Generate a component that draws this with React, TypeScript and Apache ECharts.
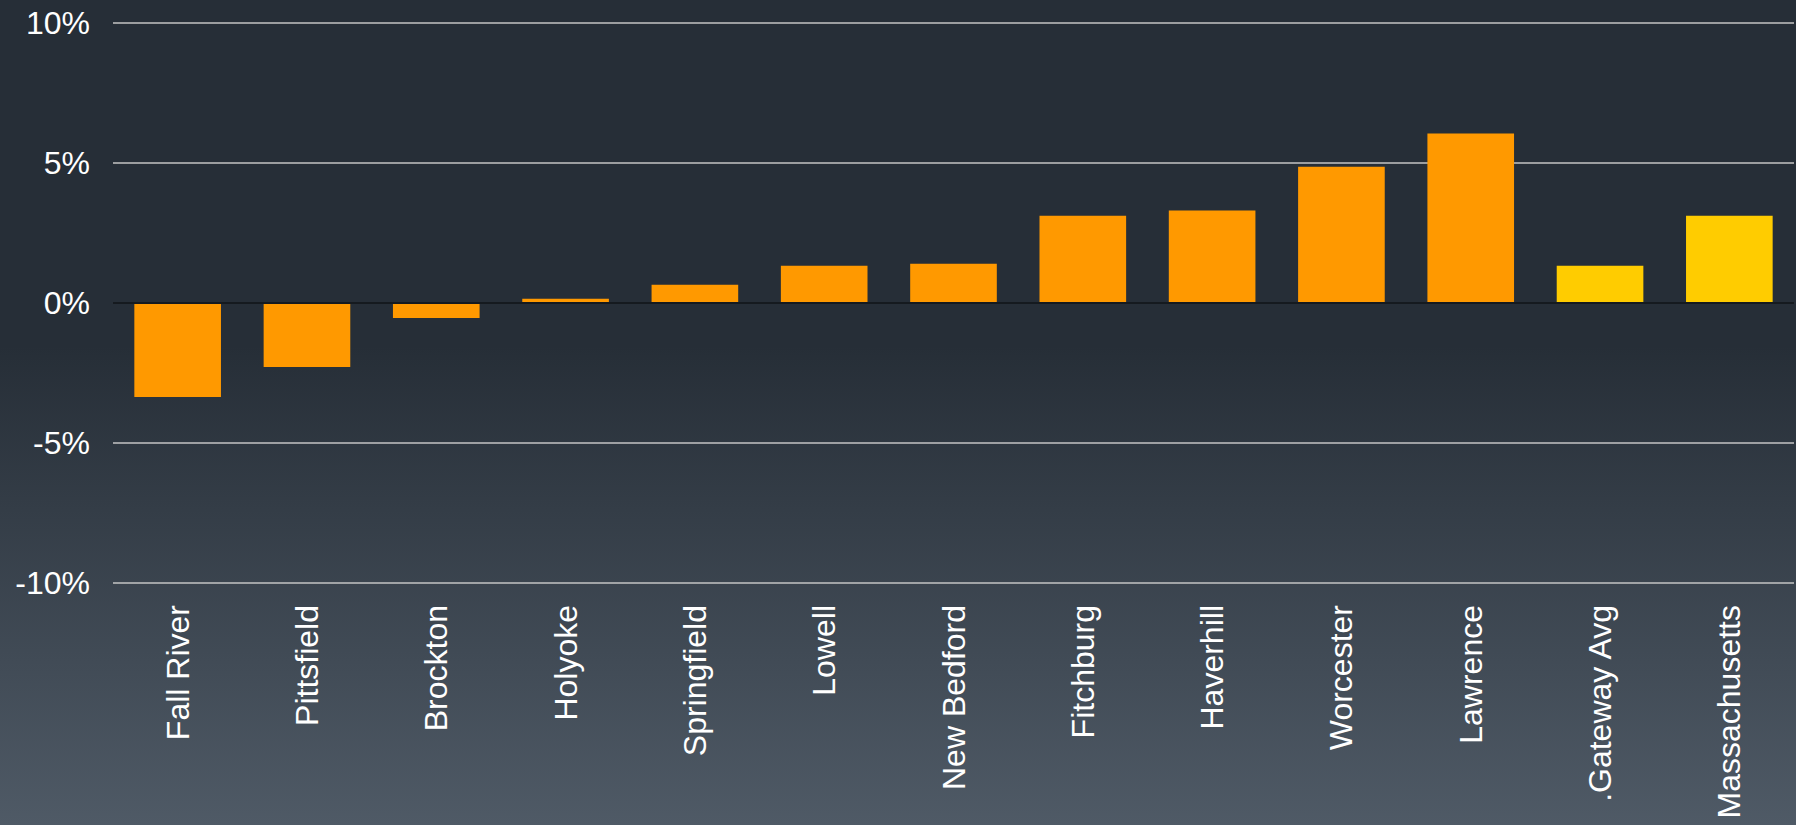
import React, { useEffect, useRef } from "react";
import * as echarts from "echarts";

const categories = [
  "Fall River",
  "Pittsfield",
  "Brockton",
  "Holyoke",
  "Springfield",
  "Lowell",
  "New Bedford",
  "Fitchburg",
  "Haverhill",
  "Worcester",
  "Lawrence",
  ".Gateway Avg",
  "Massachusetts",
];
const values = [-3.36, -2.29, -0.54, 0.15, 0.65, 1.33, 1.4, 3.12, 3.3, 4.87, 6.05, 1.33, 3.12];
const highlighted = [".Gateway Avg", "Massachusetts"];
const yTicks = [-10, -5, 0, 5, 10];

export default function App() {
  const ref = useRef<HTMLDivElement>(null);
  useEffect(() => {
    document.body.style.margin = "0";
    if (!ref.current) return;
    const chart = echarts.init(ref.current, undefined, { renderer: "svg" });
    chart.setOption({
      animation: false,
      backgroundColor: new echarts.graphic.LinearGradient(0, 0, 0, 1, [
        { offset: 0, color: "#262e37" },
        { offset: 0.42, color: "#262e37" },
        { offset: 1, color: "#4f5a66" },
      ]),
      grid: { left: 113, right: 2, top: 23, bottom: 242, containLabel: false },
      xAxis: {
        type: "category",
        data: categories,
        axisLine: { show: false },
        axisTick: { show: false },
        axisLabel: {
          rotate: 90,
          interval: 0,
          margin: 22,
          color: "#ffffff",
          fontSize: 32,
          fontFamily: "Liberation Sans, Arial, sans-serif",
        },
      },
      yAxis: {
        type: "value",
        min: yTicks[0],
        max: yTicks[yTicks.length - 1],
        interval: 5,
        axisLine: { show: false },
        axisTick: { show: false },
        splitLine: { lineStyle: { color: "#c4c4c4", width: 1.5 } },
        axisLabel: {
          margin: 23,
          color: "#ffffff",
          fontSize: 32,
          fontFamily: "Liberation Sans, Arial, sans-serif",
          formatter: (v: number) => `${v}%`,
        },
      },
      series: [
        {
          type: "bar",
          barCategoryGap: "33%",
          data: values.map((v, i) => ({
            value: v,
            itemStyle: {
              color: highlighted.includes(categories[i]) ? "#ffcc00" : "#ff9900",
            },
          })),
          markLine: {
            silent: true,
            symbol: "none",
            label: { show: false },
            lineStyle: { color: "#151a1f", width: 2, type: "solid" },
            data: [{ yAxis: 0 }],
          },
        },
      ],
    });
    return () => chart.dispose();
  }, []);
  return <div ref={ref} style={{ width: 1796, height: 825 }} />;
}
